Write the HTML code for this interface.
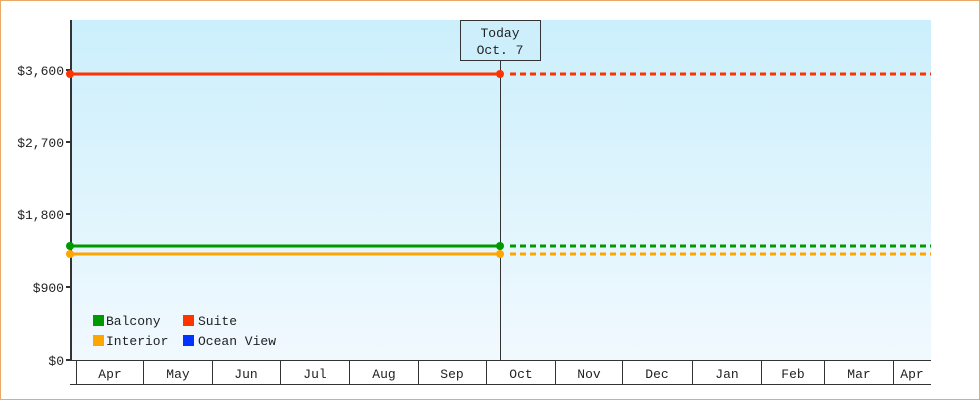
<!DOCTYPE html>
<html><head><meta charset="utf-8"><style>
html,body{margin:0;padding:0;background:#fff}
svg{display:block}
text{font-family:"Liberation Mono","DejaVu Sans Mono",monospace;font-size:13px;fill:#222}
</style></head><body>
<svg width="980" height="400" viewBox="0 0 980 400" xmlns="http://www.w3.org/2000/svg">
<defs><linearGradient id="bg" x1="0" y1="0" x2="0" y2="1">
<stop offset="0" stop-color="#cbeffc"/><stop offset="1" stop-color="#f1f9fe"/></linearGradient></defs>
<rect x="0.5" y="0.5" width="979" height="399" fill="#fff" stroke="#e8aa66"/>
<rect x="71" y="20" width="860" height="340" fill="url(#bg)"/>
<!-- y axis -->
<line x1="71" y1="20" x2="71" y2="361" stroke="#333" stroke-width="2"/>
<g stroke="#333" stroke-width="2">
<line x1="66" y1="70" x2="71" y2="70"/><line x1="66" y1="142" x2="71" y2="142"/>
<line x1="66" y1="214" x2="71" y2="214"/><line x1="66" y1="287" x2="71" y2="287"/>
<line x1="66" y1="360" x2="71" y2="360"/></g>
<g text-anchor="end">
<text x="64" y="75">$3,600</text><text x="64" y="147">$2,700</text>
<text x="64" y="219">$1,800</text><text x="64" y="292">$900</text><text x="64" y="365">$0</text></g>
<!-- x axis -->
<g stroke="#333" stroke-width="1">
<line x1="70" y1="360.5" x2="931" y2="360.5"/><line x1="70" y1="384.5" x2="931" y2="384.5"/>
<line x1="76.5" y1="360" x2="76.5" y2="385"/><line x1="143.5" y1="360" x2="143.5" y2="385"/>
<line x1="212.5" y1="360" x2="212.5" y2="385"/><line x1="280.5" y1="360" x2="280.5" y2="385"/>
<line x1="349.5" y1="360" x2="349.5" y2="385"/><line x1="418.5" y1="360" x2="418.5" y2="385"/>
<line x1="486.5" y1="360" x2="486.5" y2="385"/><line x1="555.5" y1="360" x2="555.5" y2="385"/>
<line x1="622.5" y1="360" x2="622.5" y2="385"/><line x1="692.5" y1="360" x2="692.5" y2="385"/>
<line x1="761.5" y1="360" x2="761.5" y2="385"/><line x1="824.5" y1="360" x2="824.5" y2="385"/>
<line x1="893.5" y1="360" x2="893.5" y2="385"/></g>
<g text-anchor="middle">
<text x="110" y="378">Apr</text><text x="178" y="378">May</text><text x="246" y="378">Jun</text>
<text x="315" y="378">Jul</text><text x="384" y="378">Aug</text><text x="452" y="378">Sep</text>
<text x="521" y="378">Oct</text><text x="589" y="378">Nov</text><text x="657" y="378">Dec</text>
<text x="727" y="378">Jan</text><text x="793" y="378">Feb</text><text x="859" y="378">Mar</text>
<text x="912" y="378">Apr</text></g>
<!-- today -->
<line x1="500.5" y1="61" x2="500.5" y2="360" stroke="#333" stroke-width="1"/>
<rect x="460.5" y="20.5" width="80" height="40" fill="#cdeffc" stroke="#333"/>
<text x="500" y="37" text-anchor="middle">Today</text>
<text x="500" y="54" text-anchor="middle">Oct. 7</text>
<!-- series -->
<g stroke-width="3">
<line x1="71" y1="74" x2="500" y2="74" stroke="#ff3300"/>
<line x1="510" y1="74" x2="931" y2="74" stroke="#ff3300" stroke-dasharray="6,4"/>
<line x1="71" y1="246" x2="500" y2="246" stroke="#009900"/>
<line x1="510" y1="246" x2="931" y2="246" stroke="#009900" stroke-dasharray="6,4"/>
<line x1="71" y1="254" x2="500" y2="254" stroke="#ffa500"/>
<line x1="510" y1="254" x2="931" y2="254" stroke="#ffa500" stroke-dasharray="6,4"/></g>
<circle cx="70" cy="74" r="4" fill="#ff3300"/><circle cx="500" cy="74" r="4" fill="#ff3300"/>
<circle cx="70" cy="246" r="4" fill="#009900"/><circle cx="500" cy="246" r="4" fill="#009900"/>
<circle cx="70" cy="254" r="4" fill="#ffa500"/><circle cx="500" cy="254" r="4" fill="#ffa500"/>
<!-- legend -->
<rect x="93" y="315" width="11" height="11" fill="#009900"/><text x="106" y="325">Balcony</text>
<rect x="183" y="315" width="11" height="11" fill="#ff3300"/><text x="198" y="325">Suite</text>
<rect x="93" y="335" width="11" height="11" fill="#ffa500"/><text x="106" y="345">Interior</text>
<rect x="183" y="335" width="11" height="11" fill="#0033ff"/><text x="198" y="345">Ocean View</text>
</svg>
</body></html>
